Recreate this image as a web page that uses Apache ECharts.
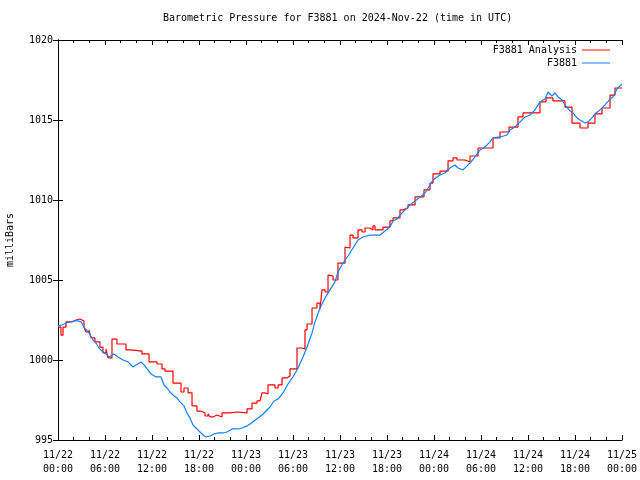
<!DOCTYPE html>
<html>
<head>
<meta charset="utf-8">
<script src="https://cdn.jsdelivr.net/npm/echarts@6/dist/echarts.min.js"></script>
<style>
html,body{margin:0;padding:0;background:#fff;}
#chart{width:640px;height:480px;}
</style>
</head>
<body>
<div id="chart"></div>
<script>
// Tick labels (every 6 hours from 2024-11-22 00:00 UTC)
var tickLabels = ['11/22\n00:00','11/22\n06:00','11/22\n12:00','11/22\n18:00','11/23\n00:00','11/23\n06:00','11/23\n12:00','11/23\n18:00','11/24\n00:00','11/24\n06:00','11/24\n12:00','11/24\n18:00','11/25\n00:00'];

// F3881 Analysis (hours since start, millibars) - step changes
var analysisHours = [0.00,0.38,0.64,1.02,1.79,2.30,2.81,3.32,3.57,3.96,4.21,4.72,5.36,5.74,6.13,6.38,6.89,7.53,8.68,9.32,10.72,11.62,12.64,13.28,13.66,14.68,15.70,16.09,16.60,17.11,17.74,18.26,18.77,19.15,19.40,19.79,20.30,20.94,21.96,22.85,24.13,24.77,25.40,25.79,26.04,26.43,26.81,27.70,28.09,28.60,29.23,29.62,30.51,31.15,31.53,31.79,32.43,33.06,33.45,33.70,34.09,34.47,34.72,35.11,35.74,36.64,36.89,37.28,37.66,38.30,38.81,39.19,39.83,40.21,40.47,41.49,42.38,42.77,43.66,44.04,44.68,45.58,46.72,47.49,47.87,48.77,49.79,50.43,50.94,51.96,52.60,53.62,55.53,56.43,57.58,58.72,59.36,61.53,62.30,63.19,64.72,65.62,66.64,67.66,68.55,69.45,70.47,71.11,72.00];
var analysisValues = [1002.06,1001.56,1002.06,1002.38,1002.50,1002.56,1002.44,1002.06,1001.75,1001.88,1001.38,1001.13,1000.81,1000.44,1000.69,1000.13,1001.31,1001.00,1000.63,1000.56,1000.38,999.88,999.75,999.44,999.31,998.56,998.00,998.25,997.94,997.13,996.81,996.69,996.50,996.63,996.44,996.56,996.44,996.69,996.75,996.69,996.94,997.31,997.44,997.38,997.94,997.88,998.44,998.25,998.44,998.88,999.00,999.44,1000.75,1000.69,1001.88,1002.25,1003.25,1003.56,1003.19,1004.38,1004.25,1005.31,1005.25,1005.00,1006.06,1007.06,1007.00,1007.81,1007.63,1008.13,1008.00,1008.25,1008.13,1008.38,1008.13,1008.31,1008.69,1008.88,1009.38,1009.50,1009.69,1010.19,1010.63,1011.06,1011.63,1011.81,1012.44,1012.63,1012.50,1012.38,1012.75,1013.25,1013.88,1014.25,1014.56,1015.19,1015.44,1016.13,1016.38,1016.19,1015.81,1014.81,1014.50,1014.81,1015.38,1015.75,1016.56,1017.00,1017.00];

// F3881 station observations (hours since start, millibars)
var stationHours = [0.00,0.51,1.02,1.53,2.04,2.55,2.94,3.32,3.96,4.47,4.85,5.23,5.74,6.13,6.51,7.15,7.66,8.30,8.94,9.57,9.96,10.60,10.98,11.49,11.87,12.51,13.15,13.53,13.92,14.30,14.68,15.19,15.57,16.09,16.47,16.85,17.23,17.74,18.13,18.51,18.89,19.40,19.91,20.43,21.06,21.57,22.21,22.98,23.49,24.13,24.51,25.02,25.53,26.04,26.55,27.06,27.57,28.09,28.72,29.36,30.00,30.64,31.28,31.79,32.43,32.81,33.45,34.09,34.72,35.36,35.74,36.38,37.02,37.66,38.30,38.94,39.83,41.11,41.74,42.38,42.77,43.28,43.66,44.30,44.94,45.58,46.21,46.85,47.49,47.87,48.38,48.77,49.40,50.04,50.68,51.06,51.70,52.60,53.23,53.87,54.51,55.15,55.53,56.43,57.32,57.70,58.34,58.98,59.62,60.26,60.89,61.53,62.17,62.56,62.81,63.06,63.45,63.83,64.34,64.72,65.23,65.74,66.26,66.64,67.28,67.66,68.17,68.68,69.19,69.83,70.47,70.85,71.36,71.74,72.00];
var stationValues = [1002.13,1002.19,1002.31,1002.38,1002.44,1002.44,1002.38,1002.06,1001.69,1001.25,1001.06,1000.75,1000.50,1000.38,1000.19,1000.38,1000.19,1000.00,999.88,999.56,999.69,999.88,999.69,999.38,999.13,998.94,998.94,998.44,998.25,998.00,997.81,997.63,997.38,997.13,996.69,996.38,995.94,995.69,995.50,995.31,995.19,995.25,995.38,995.44,995.44,995.50,995.69,995.69,995.75,995.88,996.00,996.19,996.38,996.56,996.81,997.06,997.44,997.56,997.94,998.50,998.94,999.50,1000.19,1000.81,1001.69,1002.38,1003.25,1003.88,1004.38,1004.88,1005.50,1006.06,1006.50,1007.00,1007.50,1007.69,1007.81,1007.81,1008.06,1008.31,1008.69,1008.81,1009.06,1009.38,1009.69,1009.94,1010.19,1010.44,1010.94,1011.25,1011.44,1011.56,1011.69,1012.00,1012.19,1012.00,1011.88,1012.31,1012.69,1013.13,1013.31,1013.63,1013.88,1013.94,1014.06,1014.38,1014.56,1014.88,1015.19,1015.31,1015.63,1016.13,1016.31,1016.75,1016.75,1016.50,1016.69,1016.44,1016.25,1015.94,1015.63,1015.44,1015.13,1015.00,1014.81,1014.88,1015.13,1015.44,1015.63,1015.94,1016.31,1016.44,1016.94,1017.13,1017.25];

function pairs(xs, ys){ return xs.map(function(x,i){ return [x, ys[i]]; }); }

var FONT = 'DejaVu Sans Mono';
var RED = '#ff0000';
var BLUE = '#1080ff';

var chart = echarts.init(document.getElementById('chart'), null, {renderer:'canvas'});
var xCommon = {
  type:'value', min:0, max:72, interval:6,
  axisLine:{show:true, lineStyle:{color:'#000', width:1}},
  axisTick:{show:true, inside:true, length:5, lineStyle:{color:'#000'}},
  minorTick:{show:true, splitNumber:3, length:3, lineStyle:{color:'#000'}},
  splitLine:{show:false}
};
var yCommon = {
  type:'value', min:995, max:1020, interval:5,
  axisLine:{show:true, lineStyle:{color:'#000', width:1}},
  axisTick:{show:true, inside:true, length:5, lineStyle:{color:'#000'}},
  splitLine:{show:false}
};
chart.setOption({
  animation:false,
  backgroundColor:'#fff',
  title:{
    text:'Barometric Pressure for F3881 on 2024-Nov-22 (time in UTC)',
    left:163, top:13, padding:0,
    textStyle:{fontFamily:FONT, fontSize:10, fontWeight:'normal', color:'#000'}
  },
  legend:[
    {data:['F3881 Analysis'], right:30, top:45, padding:0, align:'right', icon:'rect', itemWidth:28, itemHeight:1,
     textStyle:{fontFamily:FONT, fontSize:10, color:'#000'}},
    {data:['F3881'], right:30, top:58, padding:0, align:'right', icon:'rect', itemWidth:28, itemHeight:1,
     textStyle:{fontFamily:FONT, fontSize:10, color:'#000'}}
  ],
  grid:{left:58, right:18, top:40, bottom:40, containLabel:false, outerBoundsMode:'none'},
  xAxis:[
    Object.assign({}, xCommon, {position:'bottom',
      axisLabel:{show:true, margin:8, fontFamily:FONT, fontSize:10, color:'#000', lineHeight:14,
        formatter:function(v){ return tickLabels[Math.round(v/6)]; }}}),
    Object.assign({}, xCommon, {position:'top', axisLabel:{show:false}})
  ],
  yAxis:[
    Object.assign({}, yCommon, {position:'left', name:'milliBars', nameLocation:'middle', nameGap:43, nameRotate:90,
      nameTextStyle:{fontFamily:FONT, fontSize:10, color:'#000'},
      axisLabel:{show:true, margin:5, fontFamily:FONT, fontSize:10, color:'#000',
        formatter:function(v){ return String(v); }}}),
    Object.assign({}, yCommon, {position:'right', axisLabel:{show:false}})
  ],
  series:[
    {name:'F3881 Analysis', type:'line', step:'end', data:pairs(analysisHours, analysisValues),
     showSymbol:false, symbol:'none', lineStyle:{color:RED, width:1.2}, itemStyle:{color:RED}},
    {name:'F3881', type:'line', data:pairs(stationHours, stationValues),
     showSymbol:false, symbol:'none', lineStyle:{color:BLUE, width:1.2}, itemStyle:{color:BLUE}}
  ]
});
</script>
</body>
</html>
